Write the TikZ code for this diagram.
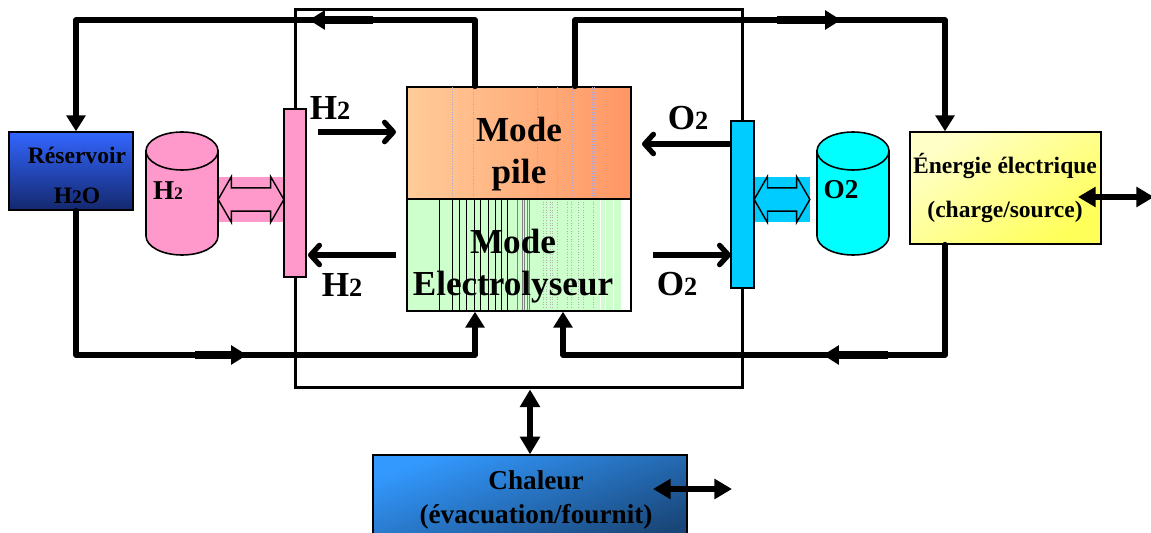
\documentclass[tikz,border=0pt]{standalone}
\usepackage{fontspec}
\setmainfont{Liberation Serif}
\usetikzlibrary{arrows.meta,shapes.arrows}
\definecolor{rose}{HTML}{FF99CC}
\definecolor{ciel}{HTML}{00CCFF}
\definecolor{cyanvif}{HTML}{00FFFF}
\newcommand{\dg}[1]{{\fontsize{#1}{#1}\selectfont 2}}
\tikzset{
  grand/.style={font=\fontsize{20}{24}\selectfont\bfseries,inner sep=0pt},
  moyen/.style={font=\fontsize{15.5}{18}\selectfont\bfseries,inner sep=0pt},
  petit/.style={font=\fontsize{13.4}{16}\selectfont\bfseries,inner sep=0pt},
  boite/.style={rectangle,draw=black,line width=0.8pt,inner sep=0pt},
  pipe/.style={line width=3.2pt,line cap=round,line join=round},
  fort/.style={line width=4.2pt},
  tete/.style={-{Triangle[length=9pt,width=10.5pt]}},
  deuxtetes/.style={{Triangle[length=10pt,width=11pt]}-{Triangle[length=10pt,width=11pt]},line width=3.4pt},
  fleche/.style={-{Straight Barb[length=5pt,width=11pt,round]},line width=3pt},
  bidir/.style={double arrow,draw=black,line width=0.8pt,double arrow tip angle=120,double arrow head extend=6.5pt,inner sep=6.2pt,minimum width=25.5pt},
  paroi/.style={draw=black,line width=0.9pt}
}
\begin{document}
\begin{tikzpicture}[x=0.02cm,y=-0.02cm]
\useasboundingbox (0,0) rectangle (1151,533);

\node[rectangle,draw=black,line width=1.7pt,minimum width=8.96cm,minimum height=7.58cm,inner sep=0pt] (cadre) at(519,198.5) {};

\node[boite,top color={rgb,255:red,51;green,102;blue,255},bottom color={rgb,255:red,20;green,40;blue,110},minimum width=2.48cm,minimum height=1.56cm] (reservoir) at(71,171) {};
\node[boite,left color={rgb,255:red,255;green,255;blue,200},right color={rgb,255:red,255;green,255;blue,90},shading angle=35,minimum width=3.82cm,minimum height=2.24cm] (energie) at(1005.5,188) {};
\node[boite,left color={rgb,255:red,51;green,153;blue,255},right color={rgb,255:red,25;green,70;blue,120},shading angle=20,minimum width=6.28cm,minimum height=1.8cm] (chaleur) at(530,500) {};

\node[boite,left color={rgb,255:red,255;green,204;blue,153},right color={rgb,255:red,255;green,150;blue,100},minimum width=4.48cm,minimum height=2.24cm] (pile) at(519,143) {};
\foreach \x in {452,473,537,557,572,592,594}
  \draw[densely dotted,line width=0.4pt,blue!40!gray!50] (\x,87) -- (\x,199);

\fill[green!20] (407,199) rectangle (621,311);
\foreach \x in {439,452,459,466,474,480,488,495,501,507}
  \draw[line width=0.5pt,black] (\x,199) -- (\x,311);
\foreach \x in {517,522,524,527,529}
  \draw[line width=0.5pt,gray] (\x,199) -- (\x,311);
\foreach \x in {543,546,550,552,557,567,571,578,583,593}
  \draw[densely dotted,line width=0.5pt,gray!60] (\x,199) -- (\x,311);
\foreach \x in {600,605,613}
  \draw[line width=0.5pt,white] (\x,199) -- (\x,311);
\node[boite,minimum width=4.48cm,minimum height=2.24cm] (electro) at(519,255) {};

\coordinate (ha) at(475,20);
\coordinate (hb) at(76,20);
\coordinate (hc) at(575,20);
\coordinate (hd) at(945,20);
\coordinate (ba) at(76,355);
\coordinate (bb) at(475,355);
\coordinate (bc) at(945,355);
\coordinate (bd) at(563,355);
\coordinate (ga) at(373,20);
\coordinate (gb) at(309,20);
\coordinate (gc) at(777,20);
\coordinate (gd) at(841,20);
\coordinate (ge) at(195,355);
\coordinate (gf) at(247,355);
\coordinate (gg) at(888,355);
\coordinate (gh) at(823,355);
\coordinate (va) at(530,420);
\coordinate (da) at(653,489);
\coordinate (db) at(732,489);
\coordinate (dc) at(1078,197);
\coordinate (dd) at(1154,197);
\coordinate (fa) at(318,132);
\coordinate (fb) at(396,132);
\coordinate (fc) at(396,255);
\coordinate (fd) at(308,255);
\coordinate (fe) at(731,144);
\coordinate (ff) at(642,144);
\coordinate (fg) at(653,255);
\coordinate (fh) at(731,255);

\draw[pipe,tete] (ha |- pile.north) -- (ha) -- (hb) -- (hb |- reservoir.north);
\draw[pipe,tete] (hc |- pile.north) -- (hc) -- (hd) -- (hd |- energie.north);
\draw[pipe,tete] (ba |- reservoir.south) -- (ba) -- (bb) -- (bb |- electro.south);
\draw[pipe,tete] (bc |- energie.south) -- (bc) -- (bd) -- (bd |- electro.south);
\draw[fort,tete] (ga) -- (gb);
\draw[fort,tete] (gc) -- (gd);
\draw[fort,tete] (ge) -- (gf);
\draw[fort,tete] (gg) -- (gh);
\draw[deuxtetes] (va |- cadre.south) -- (va |- chaleur.north);
\draw[deuxtetes] (da) -- (db);
\draw[deuxtetes] (dc) -- (dd);

\fill[rose] (218,177) rectangle (284,222);
\fill[ciel] (754,177) rectangle (810,222);
\draw[paroi,fill=rose] (146,151) -- (146,236) arc[start angle=180,end angle=0,x radius=36,y radius=19] -- (218,151) -- cycle;
\draw[paroi,fill=rose] (182,151) ellipse[x radius=36,y radius=19];
\draw[paroi,fill=cyanvif] (817,151) -- (817,236) arc[start angle=180,end angle=0,x radius=36,y radius=19] -- (889,151) -- cycle;
\draw[paroi,fill=cyanvif] (853,151) ellipse[x radius=36,y radius=19];
\node[bidir,fill=rose,minimum height=37.4pt] (flecheh) at(251,199.5) {};
\node[bidir,fill=ciel,minimum height=31.7pt] (flecheo) at(782,199.5) {};
\node[boite,fill=rose,minimum width=0.44cm,minimum height=3.36cm] (membraneh) at(295,193) {};
\node[boite,fill=ciel,minimum width=0.46cm,minimum height=3.34cm] (membraneo) at(742.5,204.5) {};

\draw[fleche] (fa) -- (fb);
\draw[fleche] (fc) -- (fd);
\draw[fleche] (fe) -- (ff);
\draw[fleche] (fg) -- (fh);

\node[grand] (tmode) at(519,129) {Mode};
\node[grand] (tpile) at(519,175) {pile};
\node[grand] (tmodeb) at(513,241) {Mode};
\node[grand] (telectro) at(513,287) {Electrolyseur};
\node[grand] (thun) at(330,108) {H\dg{15}};
\node[grand] (thdeux) at(342,285) {H\dg{15}};
\node[grand] (toun) at(688,118) {O\dg{15}};
\node[grand] (todeux) at(677,284) {O\dg{15}};
\node[petit] (tres) at(77,155) {Réservoir};
\node[petit] (teau) at(77,196) {H\dg{11}O};
\node[moyen] (tcuveh) at(168,191) {H\dg{10}};
\node[moyen] (tcuveo) at(841,190) {O2};
\node[petit] (tener) at(1005,166) {Énergie électrique};
\node[petit] (tcharge) at(1005,212) {(charge/source)};
\node[moyen] (tchal) at(536,480) {Chaleur};
\node[moyen] (tevac) at(536,517) {(évacuation/fournit)};
\end{tikzpicture}
\end{document}
